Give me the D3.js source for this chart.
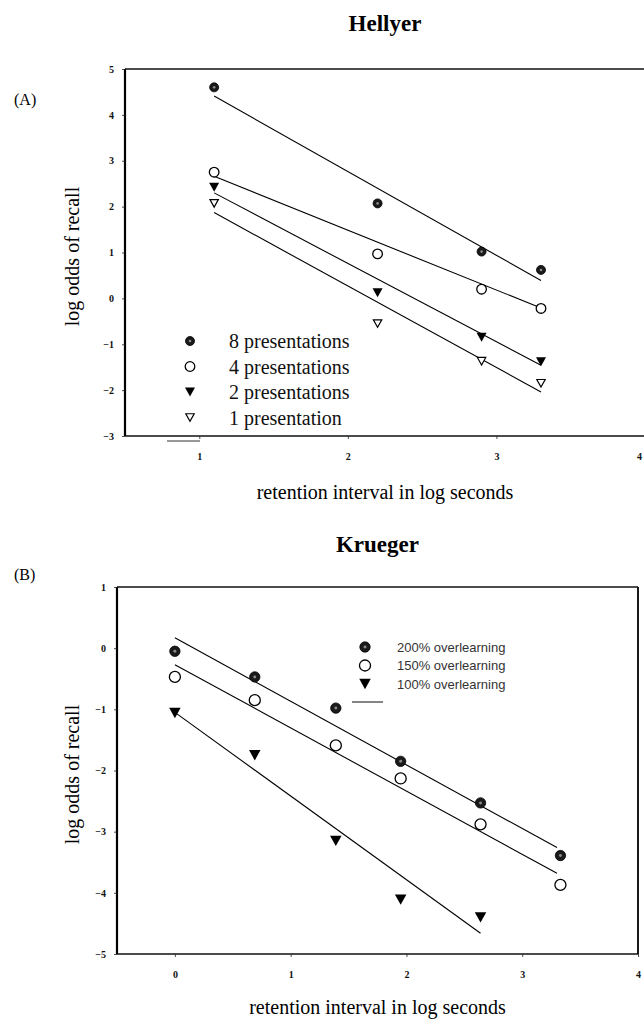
<!DOCTYPE html>
<html>
<head>
<meta charset="utf-8">
<script src="https://cdn.jsdelivr.net/npm/d3@7"></script>
<style>
  body { margin: 0; background: #fff; }
  svg { display: block; }
</style>
</head>
<body>
<div id="chart"></div>
<script>
// ---- data ----
// panel A (Hellyer)
var hellyerX = [1.1, 2.2, 2.9, 3.3]
var hellyerSeries = ['8 presentations', '4 presentations', '2 presentations', '1 presentation']
var hellyer8 = [4.6, 2.07, 1.02, 0.62]
var hellyer4 = [2.75, 0.97, 0.2, -0.22]
var hellyer2 = [2.42, 0.12, -0.85, -1.38]
var hellyer1 = [2.07, -0.55, -1.37, -1.85]
// fitted lines: [x0, y0, x1, y1]
var hellyerFits = [
  [1.1, 4.41, 3.3, 0.39],
  [1.1, 2.66, 3.3, -0.21],
  [1.1, 2.3, 3.3, -1.46],
  [1.1, 1.87, 3.3, -2.04]
]
var hellyerXTicks = [1, 2, 3, 4]
var hellyerYTicks = [-3, -2, -1, 0, 1, 2, 3, 4, 5]

// panel B (Krueger)
var kruegerX = [0, 0.69, 1.39, 1.95, 2.64, 3.33]
var kruegerSeries = ['200% overlearning', '150% overlearning', '100% overlearning']
var krueger200 = [-0.05, -0.47, -0.98, -1.85, -2.53, -3.39]
var krueger150 = [-0.47, -0.85, -1.59, -2.13, -2.88, -3.87]
var krueger100X = [0, 0.69, 1.39, 1.95, 2.64]
var krueger100 = [-1.06, -1.75, -3.15, -4.11, -4.4]
var kruegerFits = [
  [0, 0.17, 3.3, -3.26],
  [0, -0.27, 3.3, -3.68],
  [0, -1.05, 2.64, -4.66]
]
var kruegerXTicks = [0, 1, 2, 3, 4]
var kruegerYTicks = [-5, -4, -3, -2, -1, 0, 1]

var width = 644
var height = 1021

var svg = d3
  .select('#chart')
  .append('svg')
  .attr('width', width)
  .attr('height', height)

var serif = '"Liberation Serif", "Times New Roman", serif'

// marker drawing, one function per symbol
function drawMarker(g, type, x, y, big) {
  var s = big ? 1.15 : 1
  if (type === 'dot') {
    g.append('circle').attr('cx', x).attr('cy', y).attr('r', 4.5 * s)
      .attr('fill', '#1a1a1a').attr('stroke', '#000').attr('stroke-width', 0.8)
    g.append('circle').attr('cx', x).attr('cy', y).attr('r', 1.3 * s).attr('fill', '#8a8a8a')
  } else if (type === 'open') {
    g.append('circle').attr('cx', x).attr('cy', y).attr('r', 4.8 * s)
      .attr('fill', '#fff').attr('stroke', '#000').attr('stroke-width', 1.3)
  } else if (type === 'tri') {
    var w = 5 * s, h = 9 * s
    g.append('path')
      .attr('d', 'M' + (x - w) + ',' + (y - h / 2) + 'L' + (x + w) + ',' + (y - h / 2) + 'L' + x + ',' + (y + h / 2) + 'Z')
      .attr('fill', '#000')
  } else if (type === 'otri') {
    var w2 = 4.2, h2 = 7.5
    g.append('path')
      .attr('d', 'M' + (x - w2) + ',' + (y - h2 / 2) + 'L' + (x + w2) + ',' + (y - h2 / 2) + 'L' + x + ',' + (y + h2 / 2) + 'Z')
      .attr('fill', '#fff').attr('stroke', '#000').attr('stroke-width', 1.2)
  }
}

function drawPanel(opts) {
  var g = svg.append('g')
  var x = d3.scaleLinear().domain(opts.xDomain).range(opts.xRange)
  var y = d3.scaleLinear().domain(opts.yDomain).range(opts.yRange)

  // title
  g.append('text')
    .attr('x', (opts.xRange[0] + opts.xRange[1]) / 2)
    .attr('y', opts.titleY)
    .attr('text-anchor', 'middle')
    .attr('font-family', serif)
    .attr('font-weight', 700)
    .attr('font-size', 23)
    .text(opts.title)

  g.append('text')
    .attr('x', opts.tagX)
    .attr('y', opts.tagY)
    .attr('font-family', serif)
    .attr('font-size', 16)
    .text(opts.tag)

  // frame
  var x0 = opts.xRange[0], x1 = opts.xRange[1]
  var y0 = opts.yRange[1], y1 = opts.yRange[0]
  g.append('line').attr('x1', x0).attr('x2', x1).attr('y1', y0).attr('y2', y0)
    .attr('stroke', '#111').attr('stroke-width', 1.6)
  g.append('line').attr('x1', x0).attr('x2', x1).attr('y1', y1).attr('y2', y1)
    .attr('stroke', '#111').attr('stroke-width', 1.6)
  g.append('line').attr('x1', x0).attr('x2', x0).attr('y1', y0).attr('y2', y1)
    .attr('stroke', '#000').attr('stroke-width', 2.2)
  if (opts.rightFrame) {
    g.append('line').attr('x1', x1).attr('x2', x1).attr('y1', y0).attr('y2', y1)
      .attr('stroke', '#000').attr('stroke-width', 1.8)
  }

  // axes
  var yAxis = g.append('g')
    .attr('transform', 'translate(' + x0 + ',0)')
    .call(d3.axisLeft(y).tickValues(opts.yTicks).tickSize(3).tickPadding(8).tickFormat(d3.format('d')))
  var xAxis = g.append('g')
    .attr('transform', 'translate(0,' + y1 + ')')
    .call(d3.axisBottom(x).tickValues(opts.xTicks).tickSize(3).tickPadding(14).tickFormat(d3.format('d')))
  ;[xAxis, yAxis].forEach(function(a) {
    a.select('.domain').remove()
    a.selectAll('line').attr('stroke', '#222').attr('stroke-width', 0.8)
    a.selectAll('text')
      .attr('font-family', serif)
      .attr('font-weight', 700)
      .attr('font-size', 10)
      .attr('fill', '#111')
  })
  // pull a tick label that would fall past the page edge back inside it
  xAxis.selectAll('text').attr('dx', function(d) {
    return x(d) > width - 5 ? (width - 5) - x(d) : null
  })

  // axis labels
  g.append('text')
    .attr('x', (x0 + x1) / 2)
    .attr('y', opts.xLabelY)
    .attr('text-anchor', 'middle')
    .attr('font-family', serif)
    .attr('font-size', 20)
    .text('retention interval in log seconds')

  g.append('text')
    .attr('transform', 'translate(79,' + ((y0 + y1) / 2 + 4) + ') rotate(-90)')
    .attr('text-anchor', 'middle')
    .attr('font-family', serif)
    .attr('font-size', 20)
    .text('log odds of recall')

  // fitted lines
  g.selectAll('.fit')
    .data(opts.fits)
    .enter()
    .append('line')
    .attr('class', 'fit')
    .attr('x1', d => x(d[0]))
    .attr('y1', d => y(d[1]))
    .attr('x2', d => x(d[2]))
    .attr('y2', d => y(d[3]))
    .attr('stroke', '#000')
    .attr('stroke-width', 1.1)

  // points
  opts.series.forEach(function(s) {
    s.values.forEach(function(v, i) {
      drawMarker(g, s.marker, x(s.xs[i]), y(v), opts.big)
    })
  })

  // legend
  opts.series.forEach(function(s, i) {
    var ly = opts.legend.y + i * opts.legend.step
    drawMarker(g, s.marker, opts.legend.mx, ly, opts.big)
    g.append('text')
      .attr('x', opts.legend.tx)
      .attr('y', ly)
      .attr('dy', '0.35em')
      .attr('font-family', opts.legend.font)
      .attr('font-size', opts.legend.size)
      .attr('fill', opts.legend.color)
      .text(s.name)
  })

  // stray rule seen in the scan
  g.append('line')
    .attr('x1', opts.stray[0]).attr('x2', opts.stray[1])
    .attr('y1', opts.stray[2]).attr('y2', opts.stray[2])
    .attr('stroke', '#333').attr('stroke-width', 1.2)
}

drawPanel({
  title: 'Hellyer',
  titleY: 31,
  tag: '(A)',
  tagX: 14,
  tagY: 105,
  xDomain: [0.5, 4],
  xRange: [125, 645],
  yDomain: [-3, 5],
  yRange: [436, 69],
  xTicks: hellyerXTicks,
  yTicks: hellyerYTicks,
  xLabelY: 499,
  rightFrame: false,
  fits: hellyerFits,
  big: false,
  series: [
    { name: hellyerSeries[0], marker: 'dot', xs: hellyerX, values: hellyer8 },
    { name: hellyerSeries[1], marker: 'open', xs: hellyerX, values: hellyer4 },
    { name: hellyerSeries[2], marker: 'tri', xs: hellyerX, values: hellyer2 },
    { name: hellyerSeries[3], marker: 'otri', xs: hellyerX, values: hellyer1 }
  ],
  legend: { mx: 190, tx: 229, y: 341, step: 25.5, font: serif, size: 20, color: '#111' },
  stray: [167, 200, 441]
})

drawPanel({
  title: 'Krueger',
  titleY: 552,
  tag: '(B)',
  tagX: 14,
  tagY: 580,
  xDomain: [-0.5, 4],
  xRange: [117, 638],
  yDomain: [-5, 1],
  yRange: [954, 587],
  xTicks: kruegerXTicks,
  yTicks: kruegerYTicks,
  xLabelY: 1014,
  rightFrame: true,
  fits: kruegerFits,
  big: true,
  series: [
    { name: kruegerSeries[0], marker: 'dot', xs: kruegerX, values: krueger200 },
    { name: kruegerSeries[1], marker: 'open', xs: kruegerX, values: krueger150 },
    { name: kruegerSeries[2], marker: 'tri', xs: krueger100X, values: krueger100 }
  ],
  legend: { mx: 365, tx: 397, y: 647, step: 18.5, font: '"Liberation Sans", Arial, sans-serif', size: 13, color: '#333' },
  stray: [352, 383, 702]
})
</script>
</body>
</html>
